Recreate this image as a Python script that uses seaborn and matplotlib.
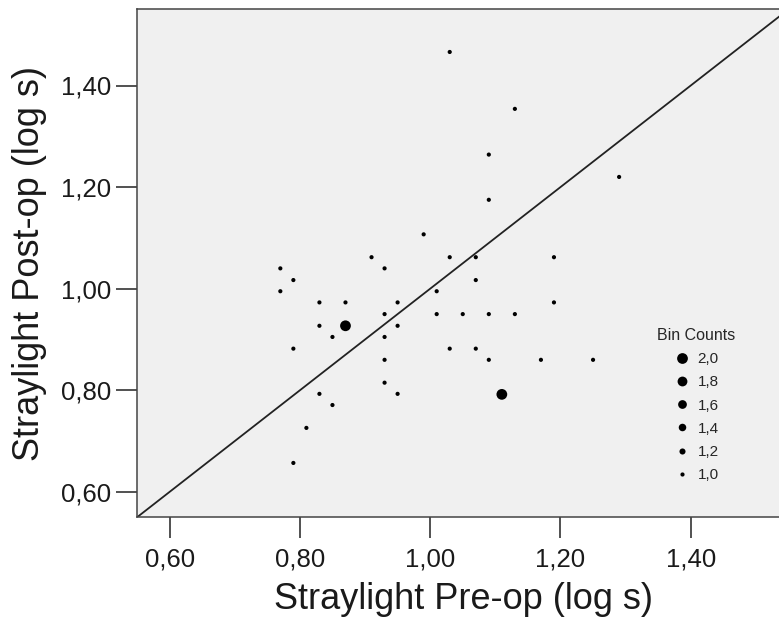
import matplotlib
matplotlib.use("Agg")
import matplotlib.pyplot as plt
from matplotlib.ticker import FixedLocator, FuncFormatter
import numpy as np
import pandas as pd
import seaborn as sns

# Straylight measurements (log s), one row per bin; count = number of eyes in the bin
pre_op = [1.03, 1.13, 1.09, 1.29, 1.09, 0.99,
          0.91, 1.03, 1.07, 1.19,
          0.77, 0.93, 0.79, 1.07, 0.77, 1.01,
          0.83, 0.87, 0.95, 1.19,
          0.93, 1.01, 1.05, 1.09, 1.13,
          0.83, 0.87, 0.95, 0.85, 0.93,
          0.79, 1.03, 1.07,
          0.93, 1.09, 1.17, 1.25,
          0.93, 0.83, 0.95, 1.11, 0.85, 0.81, 0.79]
post_op = [1.466, 1.354, 1.264, 1.220, 1.175, 1.107,
           1.062, 1.062, 1.062, 1.062,
           1.040, 1.040, 1.017, 1.017, 0.995, 0.995,
           0.973, 0.973, 0.973, 0.973,
           0.950, 0.950, 0.950, 0.950, 0.950,
           0.927, 0.927, 0.927, 0.905, 0.905,
           0.882, 0.882, 0.882,
           0.860, 0.860, 0.860, 0.860,
           0.815, 0.793, 0.793, 0.792, 0.771, 0.726, 0.657]
bin_counts = [1, 1, 1, 1, 1, 1,
              1, 1, 1, 1,
              1, 1, 1, 1, 1, 1,
              1, 1, 1, 1,
              1, 1, 1, 1, 1,
              1, 2, 1, 1, 1,
              1, 1, 1,
              1, 1, 1, 1,
              1, 1, 1, 2, 1, 1, 1]
tick_values = [0.60, 0.80, 1.00, 1.20, 1.40]

df = pd.DataFrame({"pre": pre_op, "post": post_op,
                   "count": np.asarray(bin_counts, dtype=float)})

sns.set_theme(style="white")
plt.rcParams["font.family"] = ["Liberation Sans", "DejaVu Sans"]

fig = plt.figure(figsize=(7.79, 6.23), dpi=100)
W, H = 779, 623
ax = fig.add_axes([137 / W, (H - 517.3) / H, 651.5 / W, 508 / H])
ax.set_facecolor("#f0f0f0")

# identity line (post = pre)
ax.axline((0.55, 0.55), slope=1, color="#222222", lw=1.3, zorder=1)

sns.scatterplot(data=df, x="pre", y="post", size="count",
                sizes=(9, 60), size_norm=(1, 2), color="black",
                edgecolor="none", linewidth=0, legend="brief",
                ax=ax, zorder=3)

ax.set_xlim(0.55, 1.55)
ax.set_ylim(0.55, 1.55)

comma = FuncFormatter(lambda v, _: f"{v:.2f}".replace(".", ","))
for axis in (ax.xaxis, ax.yaxis):
    axis.set_major_locator(FixedLocator(tick_values))
    axis.set_major_formatter(comma)

ax.tick_params(axis="both", which="major", direction="out", length=15,
               width=1.2, color="#333333", labelsize=18.5, labelcolor="#1a1a1a")
ax.tick_params(axis="x", pad=7)
ax.tick_params(axis="y", pad=3.5)
ax.tick_params(bottom=True, left=True)

for side in ("left", "bottom", "top", "right"):
    ax.spines[side].set_color("#444444")
    ax.spines[side].set_linewidth(1.1)

ax.set_xlabel("Straylight Pre-op (log s)", fontsize=26, color="#1a1a1a")
ax.set_ylabel("Straylight Post-op (log s)", fontsize=26, color="#1a1a1a")
ax.xaxis.set_label_coords((464 - 137) / 651.5, (517.3 - 582) / 508)
ax.yaxis.set_label_coords((47 - 137) / 651.5, 0.5)

# legend: largest bin count on top, decimal commas
handles, labels = ax.get_legend_handles_labels()
pairs = []
for h, l in zip(handles, labels):
    try:
        pairs.append((h, float(l)))
    except ValueError:
        pass
pairs = sorted(pairs, key=lambda p: p[1], reverse=True)
leg = ax.legend([p[0] for p in pairs],
                [f"{p[1]:.1f}".replace(".", ",") for p in pairs],
                title="Bin Counts", frameon=False, fontsize=11,
                title_fontsize=11.5, loc="upper left",
                bbox_to_anchor=((651 - 137) / 651.5, 1 - (322 - 9.3) / 508),
                labelspacing=0.6, handletextpad=0.52, borderaxespad=0,
                handlelength=1.05)
for h in leg.legend_handles:
    if hasattr(h, "set_markerfacecolor"):
        h.set_markerfacecolor("black")
        h.set_markeredgecolor("black")
        h.set_markeredgewidth(0)
    else:
        h.set_color("black")

fig.savefig("out.png", dpi=100, facecolor="white")
